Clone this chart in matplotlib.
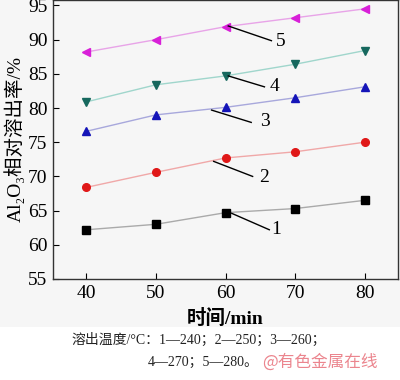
import matplotlib
matplotlib.use('Agg')
import matplotlib.pyplot as plt
from matplotlib.patches import Rectangle

plt.rcParams['font.family'] = ['Liberation Serif', 'Noto Sans CJK SC']

# data
time_min = [40, 50, 60, 70, 80]
s1 = [62.2, 63.0, 64.7, 65.3, 66.5]   # 240 C
s2 = [68.4, 70.6, 72.7, 73.6, 75.0]   # 250 C
s3 = [76.6, 79.0, 80.1, 81.5, 83.1]   # 260 C
s4 = [80.9, 83.4, 84.7, 86.4, 88.4]   # 270 C
s5 = [88.2, 90.0, 91.9, 93.2, 94.5]   # 280 C
labels = ['1', '2', '3', '4', '5']

fig = plt.figure(figsize=(4.0, 3.8), dpi=100, facecolor='white')
fig.patches.append(Rectangle((0, 53 / 380), 1, 1, transform=fig.transFigure,
                             facecolor='#f6f6f6', edgecolor='none', zorder=-10))
ax = fig.add_axes([0.1325, 0.2658, 0.8625, 0.7342])
ax.set_facecolor('#f6f6f6')

series = [
    (s1, 's', 'black', '#aaaaaa'),
    (s2, 'o', '#e01818', '#f0a8a8'),
    (s3, '^', '#1414b8', '#a8a8dc'),
    (s4, 'v', '#16685e', '#a0d6cc'),
    (s5, '<', '#d820d8', '#e8a4e8'),
]
for vals, mk, mc, lc in series:
    ax.plot(time_min, vals, color=lc, lw=1.0, zorder=2)
    ax.plot(time_min, vals, ls='none', marker=mk, ms=5.5, color=mc, zorder=3)

# leader lines and labels
leaders = [
    ((60.9, 64.6), (66.3, 62.2), (66.6, 62.2)),
    ((58.3, 72.2), (63.9, 70.0), (64.9, 69.9)),
    ((58.0, 79.7), (63.7, 77.9), (64.9, 78.1)),
    ((60.4, 84.7), (65.6, 83.1), (66.3, 83.2)),
    ((60.4, 92.0), (66.6, 89.85), (67.3, 89.7)),
]
for lab, (p0, p1, pt) in zip(labels, leaders):
    ax.plot([p0[0], p1[0]], [p0[1], p1[1]], color='black', lw=1.0, zorder=4)
    ax.text(pt[0], pt[1], lab, fontsize=14, ha='left', va='center')

ax.set_xlim(35.2, 84.8)
ax.set_ylim(55, 95.8)
ax.set_xticks(time_min)
ax.set_yticks(range(55, 96, 5))
ax.tick_params(direction='in', length=4, width=0.8, labelsize=14, pad=4)
for sp in ax.spines.values():
    sp.set_linewidth(1.0)
    sp.set_color('#333333')

ax.set_xlabel('时间/min', fontsize=14, fontweight='bold', labelpad=5)
ax.set_ylabel('Al₂O₃相对溶出率/%', fontsize=14, labelpad=2)

fig.text(0.18, 40 / 380, '溶出温度/°C：1—240；2—250；3—260；',
         ha='left', va='center', fontsize=10, color='#222222')
fig.text(0.37, 18 / 380, '4—270；5—280。', ha='left', va='center',
         fontsize=10, color='#222222')
fig.text(0.655, 18 / 380, '@有色金属在线', ha='left', va='center',
         fontsize=12, color='#e8707a', alpha=0.85,
         family=['Noto Sans CJK SC', 'DejaVu Sans'])

fig.savefig('out.png', dpi=100, facecolor=fig.get_facecolor())
